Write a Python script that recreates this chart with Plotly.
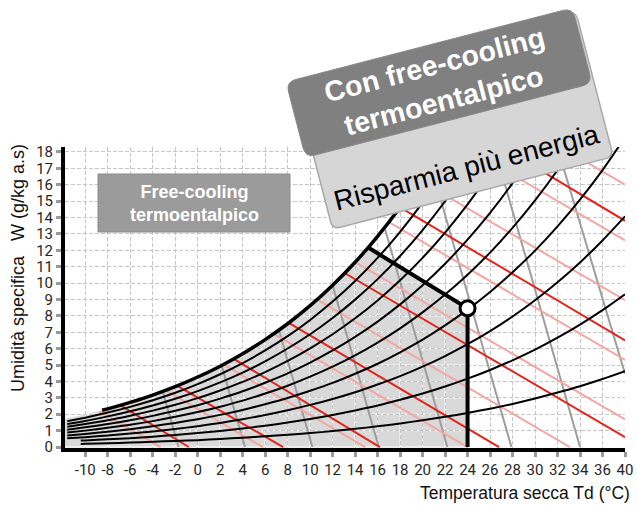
import plotly.graph_objects as go
import math

# ---------------- data ----------------
T_AXIS = [-10, -8, -6, -4, -2, 0, 2, 4, 6, 8, 10, 12, 14, 16, 18, 20, 22, 24, 26, 28, 30, 32, 34, 36, 38]

# relative-humidity curves: start point + values at T_AXIS (stop when above the chart)
RH_START_T = [-10.4, -10.4, -11.6, -11.6, -11.6, -11.6, -11.6, -11.6, -11.6]
RH_START_W = [0.19, 0.39, 0.53, 0.70, 0.88, 1.05, 1.23, 1.41, 1.58]
RH10 = [0.20, 0.23, 0.27, 0.32, 0.37, 0.42, 0.49, 0.57, 0.65, 0.75, 0.85, 0.97, 1.11, 1.26, 1.44, 1.63, 1.84, 2.08, 2.34, 2.63, 2.96, 3.32, 3.71, 4.15, 4.63]
RH20 = [0.40, 0.47, 0.54, 0.63, 0.74, 0.85, 0.98, 1.13, 1.30, 1.49, 1.71, 1.95, 2.23, 2.53, 2.88, 3.26, 3.69, 4.17, 4.70, 5.29, 5.94, 6.67, 7.47, 8.35, 9.32]
RH30 = [0.60, 0.70, 0.82, 0.95, 1.10, 1.27, 1.47, 1.70, 1.95, 2.24, 2.57, 2.93, 3.34, 3.81, 4.32, 4.90, 5.55, 6.27, 7.07, 7.96, 8.95, 10.05, 11.26, 12.60, 14.07]
RH40 = [0.80, 0.93, 1.09, 1.27, 1.47, 1.70, 1.96, 2.26, 2.61, 2.99, 3.43, 3.91, 4.47, 5.08, 5.78, 6.55, 7.42, 8.38, 9.46, 10.66, 11.98, 13.46, 15.09, 16.89, 18.89]
RH50 = [1.00, 1.17, 1.36, 1.58, 1.84, 2.13, 2.46, 2.83, 3.26, 3.74, 4.29, 4.90, 5.59, 6.37, 7.24, 8.21, 9.30, 10.51, 11.86, 13.37, 15.04, 16.90, 18.97]
RH60 = [1.20, 1.40, 1.63, 1.90, 2.21, 2.55, 2.95, 3.40, 3.92, 4.49, 5.15, 5.89, 6.72, 7.65, 8.70, 9.87, 11.18, 12.65, 14.28, 16.10, 18.13, 20.38]
RH70 = [1.40, 1.63, 1.91, 2.22, 2.58, 2.98, 3.45, 3.97, 4.57, 5.25, 6.02, 6.88, 7.85, 8.94, 10.17, 11.54, 13.08, 14.80, 16.72, 18.86]
RH80 = [1.59, 1.87, 2.18, 2.53, 2.94, 3.41, 3.94, 4.54, 5.23, 6.01, 6.88, 7.87, 8.99, 10.24, 11.65, 13.23, 14.99, 16.97, 19.18]
RH90 = [1.79, 2.10, 2.45, 2.85, 3.31, 3.84, 4.44, 5.12, 5.89, 6.76, 7.75, 8.87, 10.13, 11.54, 13.13, 14.91, 16.91, 19.15]

# saturation curve
SAT_T = [-12, -10, -8, -6, -4, -2, 0, 2, 4, 6, 8, 10, 12, 14, 16, 18, 20, 22]
SAT_W = [1.70, 1.99, 2.33, 2.72, 3.17, 3.68, 4.27, 4.93, 5.69, 6.55, 7.52, 8.62, 9.87, 11.27, 12.85, 14.62, 16.61, 18.84]
SAT_THICK_START = [-8.5, 2.24]

# free-cooling zone limits
CORNER = [15.2, 12.15]
POINT = [24.0, 8.46]

# red lines (start on saturation -> end)
RED_X0 = [-6.9, -1.8, 3.2, 8.1, 13.1, 18.0, 23.0]
RED_W0 = [2.55, 3.73, 5.38, 7.57, 10.6, 14.62, 19.95]
RED_X1 = [-0.8, 7.6, 16.2, 26.8, 38.0, 38.0, 38.0]
RED_W1 = [0.0, 0.0, 0.0, 0.0, 0.6, 6.5, 13.8]

# pink lines
PINK_X0 = [-8.7, -2.8, 2.3, 6.8, 10.6, 14.0, 17.0, 19.7, 22.0, 30.0]
PINK_W0 = [2.18, 3.44, 5.04, 6.89, 9.00, 11.28, 13.72, 16.28, 19.0, 19.2]
PINK_X1 = [-3.3, 5.8, 14.9, 24.0, 33.1, 38.0, 38.0, 38.0, 38.0, 38.0]
PINK_W1 = [0.0, 0.0, 0.0, 0.0, 0.0, 1.68, 5.32, 8.96, 12.6, 16.0]

# grey lines
GREY_X0 = [-3.11, 2.13, 7.23, 12.0, 16.62, 20.67, 26.0, 31.5]
GREY_W0 = [3.38, 4.97, 7.12, 9.86, 13.39, 17.35, 19.2, 19.4]
GREY_X1 = [-1.7, 4.2, 10.2, 16.1, 22.2, 27.9, 34.0, 38.0]
GREY_W1 = [0.0, 0.0, 0.0, 0.0, 0.0, 0.0, 0.0, 4.47]

X_TICKS = [-10, -8, -6, -4, -2, 0, 2, 4, 6, 8, 10, 12, 14, 16, 18, 20, 22, 24, 26, 28, 30, 32, 34, 36, 38]
X_LABELS = ["-10", "-8", "-6", "-4", "-2", "0", "2", "4", "6", "8", "10", "12", "14", "16", "18", "20",
            "22", "24", "26", "28", "30", "32", "34", "36", "40"]
Y_TICKS = list(range(0, 19))

# ---------------- layout constants ----------------
W, H = 637, 505
ML, MR, MT, MB = 65, 12, 147, 57
PW, PH = W - ML - MR, H - MT - MB
X_RANGE = [-11.8, 38.0]
Y_RANGE = [-0.06, 18.3]


def pp(px, py):
    return (px - ML) / PW, (H - MB - py) / PH


def rot_box(tlx, tly, w, h, ang, r):
    a = math.radians(ang)
    u = (math.cos(a), -math.sin(a))
    v = (math.sin(a), math.cos(a))

    def add(p, d, k):
        return (p[0] + d[0] * k, p[1] + d[1] * k)

    TL = (tlx, tly)
    TR = add(TL, u, w)
    BR = add(TR, v, h)
    BL = add(TL, v, h)
    pts = [("M", add(TL, u, r)), ("L", add(TR, u, -r)), ("Q", TR, add(TR, v, r)),
           ("L", add(BR, v, -r)), ("Q", BR, add(BR, u, -r)), ("L", add(BL, u, r)),
           ("Q", BL, add(BL, v, -r)), ("L", add(TL, v, r)), ("Q", TL, add(TL, u, r))]
    s = ""
    for item in pts:
        coords = " ".join("%.5f,%.5f" % pp(*p) for p in item[1:])
        s += item[0] + coords + " "
    return s + "Z"


fig = go.Figure()


def line(xs, ys, color, width, shape="linear"):
    fig.add_trace(go.Scatter(x=xs, y=ys, mode="lines",
                             line=dict(color=color, width=width, shape=shape, smoothing=0.7),
                             hoverinfo="skip", showlegend=False))


for i in range(len(GREY_X0)):
    line([GREY_X0[i], GREY_X1[i]], [GREY_W0[i], GREY_W1[i]], "#9d9d9d", 2)
for i in range(len(PINK_X0)):
    line([PINK_X0[i], PINK_X1[i]], [PINK_W0[i], PINK_W1[i]], "#f3a7a2", 2)
for i in range(len(RED_X0)):
    line([RED_X0[i], RED_X1[i]], [RED_W0[i], RED_W1[i]], "#e3241b", 2)

for st, sw, vals in zip(RH_START_T, RH_START_W, [RH10, RH20, RH30, RH40, RH50, RH60, RH70, RH80, RH90]):
    xs = [st] + T_AXIS[:len(vals)]
    ys = [sw] + vals
    line(xs, ys, "#000000", 2, "spline")

# thick saturation curve
sx = [SAT_THICK_START[0]] + [t for t in SAT_T if t > SAT_THICK_START[0]]
sy = [SAT_THICK_START[1]] + [w for t, w in zip(SAT_T, SAT_W) if t > SAT_THICK_START[0]]
line(sx, sy, "#000000", 3.5, "spline")

# thick limits of free-cooling zone
line([CORNER[0], POINT[0], POINT[0]], [CORNER[1], POINT[1], 0], "#000000", 4)
fig.add_trace(go.Scatter(x=[POINT[0]], y=[POINT[1]], mode="markers",
                         marker=dict(size=15, color="white", line=dict(color="black", width=3)),
                         hoverinfo="skip", showlegend=False))

# ---------------- shapes ----------------
shapes = []
zone = [(X_RANGE[0], -0.2), (X_RANGE[0], 1.73)]
zone += [(t, w) for t, w in zip(SAT_T, SAT_W) if X_RANGE[0] < t < CORNER[0]]
zone += [(CORNER[0], CORNER[1]), (POINT[0], POINT[1]), (POINT[0], -0.2)]
path = "M " + " L ".join("%g,%g" % p for p in zone) + " Z"
shapes.append(dict(type="path", path=path, xref="x", yref="y", layer="below",
                   fillcolor="#d9d9d9", line=dict(width=0)))
for xv in X_TICKS:
    shapes.append(dict(type="line", xref="x", yref="y", x0=xv, x1=xv, y0=Y_RANGE[0], y1=Y_RANGE[1],
                       layer="below", line=dict(color="white", width=1)))
for yv in Y_TICKS:
    shapes.append(dict(type="line", xref="x", yref="y", x0=X_RANGE[0], x1=X_RANGE[1], y0=yv, y1=yv,
                       layer="below", line=dict(color="white", width=1)))

bx0, by0 = pp(98, 232)
bx1, by1 = pp(290, 174)
shapes.append(dict(type="rect", xref="paper", yref="paper", x0=bx0, y0=by0, x1=bx1, y1=by1,
                   fillcolor="#9b9b9b", line=dict(color="#8c8c8c", width=1), layer="above"))
shapes.append(dict(type="path", xref="paper", yref="paper", layer="above",
                   path=rot_box(295, 84, 290, 150, 14.5, 8),
                   fillcolor="#d6d6d6", line=dict(color="#a8a8a8", width=1.5)))
shapes.append(dict(type="path", xref="paper", yref="paper", layer="above",
                   path=rot_box(286, 82, 296, 78, 14.5, 10),
                   fillcolor="#808080", line=dict(color="#8a8a8a", width=1)))

annotations = []


def note(px, py, text, size, color, bold=False, angle=0, xanchor="center"):
    x, y = pp(px, py)
    annotations.append(dict(xref="paper", yref="paper", x=x, y=y, showarrow=False,
                            xanchor=xanchor, yanchor="middle", textangle=angle,
                            text=("<b>%s</b>" % text) if bold else text,
                            font=dict(family="Liberation Sans", size=size, color=color)))


note(194, 203, "Free-cooling<br>termoentalpico", 18, "white", bold=True)
note(439, 83, "Con free-cooling<br>termoentalpico", 28.5, "white", bold=True, angle=-14.5)
note(466, 167, "Risparmia più energia", 28, "black", angle=-14.5)
note(18, 268, "Umidità specifica\u00a0\u00a0\u00a0W (g/kg a.s)", 18, "#111", angle=-90)
note(632, 493, "Temperatura secca Td (°C)", 17.5, "#111", xanchor="right")

axis_common = dict(showgrid=True, gridcolor="#c6c6c6", griddash="4px,2px", gridwidth=1,
                   showline=True, linecolor="black", linewidth=4, zeroline=False,
                   ticks="outside", tickcolor="#9a9a9a", ticklen=5, tickwidth=2.5, automargin=False,
                   tickfont=dict(family="Roboto", size=15, color="#262626"), fixedrange=True)

fig.update_layout(
    width=W, height=H,
    margin=dict(l=ML, r=MR, t=MT, b=MB, autoexpand=False),
    paper_bgcolor="white", plot_bgcolor="white",
    xaxis=dict(range=X_RANGE, tickvals=X_TICKS, ticktext=X_LABELS, **axis_common),
    yaxis=dict(range=Y_RANGE, tickvals=Y_TICKS, ticktext=[str(v) for v in Y_TICKS], **axis_common),
    shapes=shapes, annotations=annotations, showlegend=False,
)

fig.write_html("out.html", config={"displayModeBar": False},
               post_script="document.body.style.margin='0px';document.body.style.overflow='hidden';")
